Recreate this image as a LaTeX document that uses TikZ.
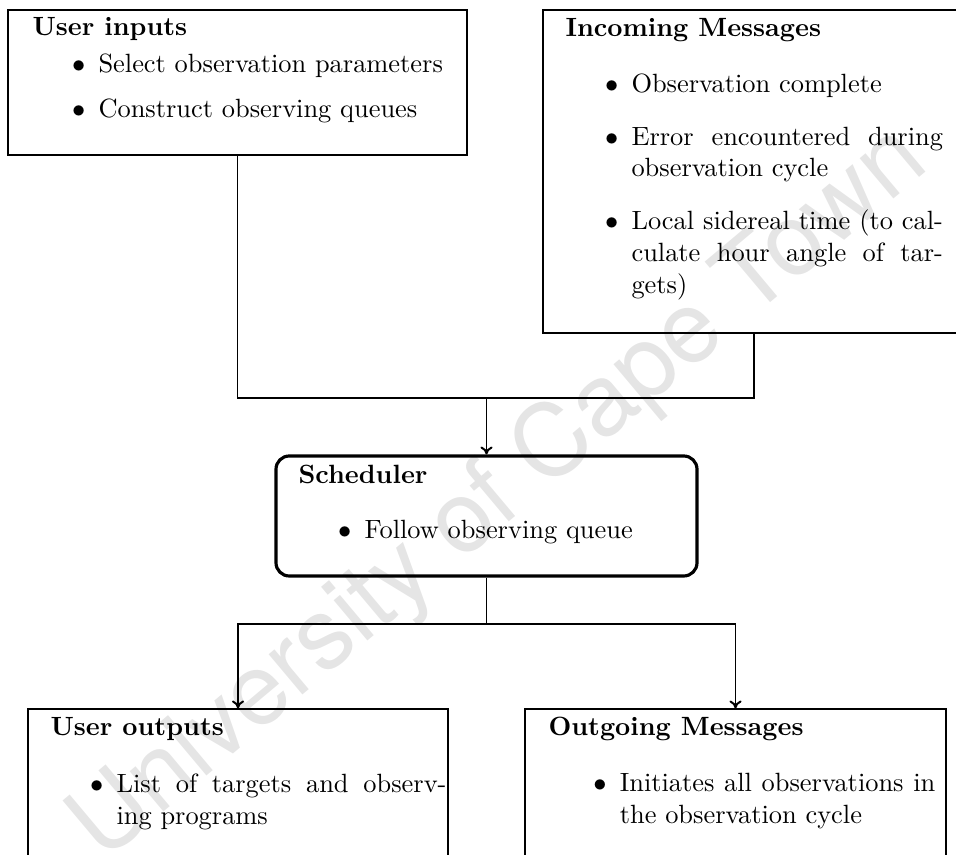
\documentclass[tikz,border=0pt]{standalone}
\usepackage{fontspec}
\newfontfamily\wmfont{TeX Gyre Heros}
\usepackage{enumitem}
\usetikzlibrary{fit,arrows.meta}

% list layout used inside every box: #1 top gap, #2 gap between items, #3 indent
\newcommand{\boxlist}[3]{\begin{itemize}[label=$\bullet$,leftmargin=#3,topsep=#1,partopsep=0pt,itemsep=#2,parsep=0pt]}

\tikzset{
  panel/.style={draw, line width=0.45pt, inner sep=0pt},
  core/.style={draw, line width=1.2pt, rounded corners=5pt, inner sep=0pt},
  content/.style={anchor=base west, inner sep=0pt, align=left},
  link/.style={line width=0.75pt},
  flow/.style={link, -{Computer Modern Rightarrow[length=3pt,width=4.6pt]}},
  watermark/.style={text=black!10, font=\wmfont\fontsize{38}{40}\selectfont, inner sep=0pt}
}

\begin{document}
\begin{tikzpicture}[x=0.3788pt, y=-0.3788pt]
\useasboundingbox (0,0) rectangle (956,855);
\clip (0,0) rectangle (956,855);

% background watermark
\node[watermark, rotate=40] (wm) at (500,495) {University of Cape Town};

% frames
\node[panel, fit={(8,10) (467,155)}] (inputs) {};
\node[panel, fit={(543,10) (965,333)}] (incoming) {};
\node[core, fit={(276,456) (697,576)}] (sched) {};
\node[panel, fit={(28,709) (448,900)}] (outputs) {};
\node[panel, fit={(525,709) (946,900)}] (outgoing) {};

% box contents
\node[content] (inputs-text) at (32,36) {\begin{minipage}[t]{170pt}
\textbf{User inputs}
\boxlist{2pt}{5pt}{25pt}
\item Select observation parameters
\item Construct observing queues
\end{itemize}
\end{minipage}};

\node[content] (incoming-text) at (565,37) {\begin{minipage}[t]{143pt}
\textbf{Incoming Messages}
\boxlist{9pt}{8pt}{25pt}
\item Observation complete
\item Error encountered during\linebreak observation cycle
\item Local sidereal time (to cal-\linebreak culate hour angle of tar-\linebreak gets)
\end{itemize}
\end{minipage}};

\node[content] (sched-text) at (298,484) {\begin{minipage}[t]{150pt}
\textbf{Scheduler}
\boxlist{8.5pt}{8pt}{25pt}
\item Follow observing queue
\end{itemize}
\end{minipage}};

\node[content] (outputs-text) at (50,736) {\begin{minipage}[t]{150pt}
\textbf{User outputs}
\boxlist{9.5pt}{8pt}{25pt}
\item List of targets and observ-\linebreak ing programs
\end{itemize}
\end{minipage}};

\node[content] (outgoing-text) at (548,736) {\begin{minipage}[t]{146.5pt}
\textbf{Outgoing Messages}
\boxlist{9pt}{8pt}{27pt}
\item Initiates all observations in\linebreak the observation cycle
\end{itemize}
\end{minipage}};

% connectors
\coordinate (merge) at (486.5,398);
\coordinate (split) at (486.5,624);
\draw[link] (inputs.south) |- (merge) -| (incoming.south);
\draw[flow] (merge) -- (sched.north);
\draw[link] (sched.south) -- (split);
\draw[flow] (split) -| (outputs.north);
\draw[flow] (split) -| (outgoing.north);
\end{tikzpicture}
\end{document}
